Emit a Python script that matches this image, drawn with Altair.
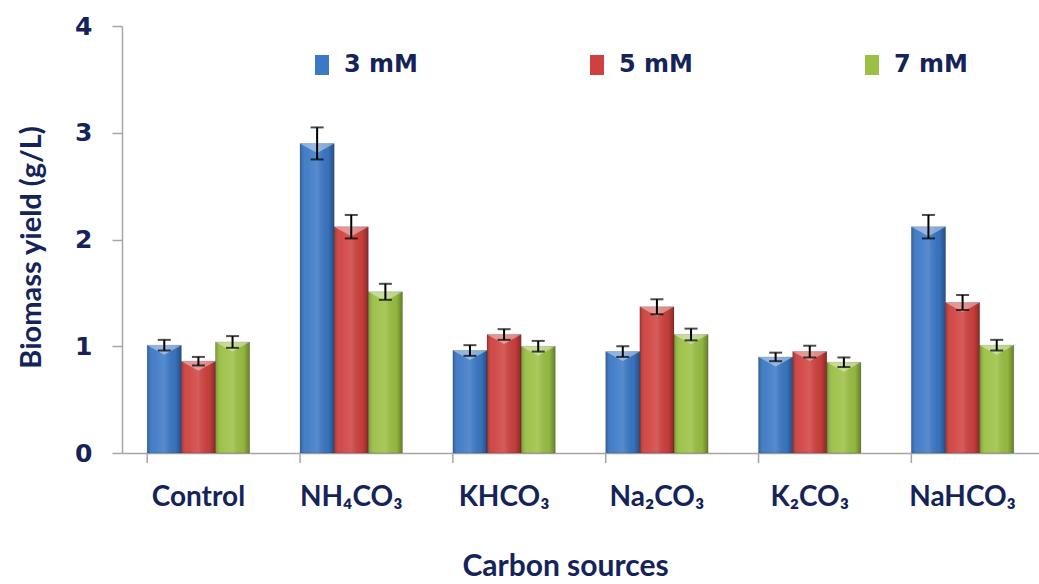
import altair as alt
import pandas as pd

# Biomass yield (g/L) by carbon source and concentration
categories = ["Control", "NH₄CO₃", "KHCO₃", "Na₂CO₃", "K₂CO₃", "NaHCO₃"]
concentrations = ["3 mM", "5 mM", "7 mM"]
yield_3mm = [1.01, 2.90, 0.96, 0.95, 0.90, 2.12]
yield_5mm = [0.86, 2.12, 1.11, 1.37, 0.95, 1.41]
yield_7mm = [1.04, 1.51, 1.00, 1.11, 0.85, 1.01]
err_3mm = [0.05, 0.15, 0.05, 0.05, 0.04, 0.11]
err_5mm = [0.04, 0.11, 0.05, 0.07, 0.055, 0.07]
err_7mm = [0.055, 0.075, 0.05, 0.055, 0.045, 0.05]
colors = ["#3B78C6", "#CF413E", "#9BC043"]

rows = []
for conc, ys, es in zip(concentrations, [yield_3mm, yield_5mm, yield_7mm],
                        [err_3mm, err_5mm, err_7mm]):
    for cat, y, e in zip(categories, ys, es):
        rows.append({"source": cat, "conc": conc, "value": y,
                     "lo": y - e, "hi": y + e})
df = pd.DataFrame(rows)
ticks_df = pd.DataFrame({"source": categories})

W, H = 917, 427
TEXT = "#14245A"
FONT = "Lato"
WIDE = "DejaVu Sans"
AXIS_GREY = "#A6A6A6"

x_enc = alt.X("source:N", sort=categories,
              scale=alt.Scale(paddingInner=0.33, paddingOuter=0.165),
              axis=alt.Axis(title="Carbon sources", labelAngle=0, ticks=False,
                            labelFont=FONT, labelFontSize=28, labelFontWeight="bold",
                            labelColor=TEXT, labelPadding=30,
                            titleFont=FONT, titleFontSize=30, titleFontWeight="bold",
                            titleColor=TEXT, titlePadding=40, titleX=443,
                            domainColor=AXIS_GREY, domainWidth=1.5))
xoff = alt.XOffset("conc:N", sort=concentrations,
                   scale=alt.Scale(paddingInner=0, paddingOuter=0))
y_scale = alt.Scale(domain=[0, 4], nice=False)
x_plain = alt.X("source:N", sort=categories)

bars = alt.Chart(df).mark_bar().encode(
    x=x_enc,
    xOffset=xoff,
    y=alt.Y("value:Q", scale=y_scale,
            axis=alt.Axis(title="Biomass yield (g/L)", values=[0, 1, 2, 3, 4],
                          format="d", grid=False, tickSize=10, tickColor=AXIS_GREY,
                          tickWidth=1.5, domainColor=AXIS_GREY, domainWidth=1.5,
                          labelFont=WIDE, labelFontSize=25, labelFontWeight="bold",
                          labelColor=TEXT, labelPadding=20,
                          titleFont=FONT, titleFontSize=29, titleFontWeight="bold",
                          titleColor=TEXT, titlePadding=28, titleY=221)),
    color=alt.Color("conc:N", sort=concentrations,
                    scale=alt.Scale(domain=concentrations, range=colors),
                    legend=alt.Legend(title=None, orient="none", direction="horizontal",
                                      legendX=188, legendY=27, columns=3,
                                      columnPadding=167,
                                      symbolType="M-0.7,-1H0.7V1H-0.7Z",
                                      symbolSize=400, symbolStrokeWidth=0,
                                      symbolOpacity=1,
                                      labelFontSize=24, labelFont=WIDE,
                                      labelFontWeight="bold", labelColor=TEXT,
                                      labelOffset=10)),
)

# soft cylindrical shading across each bar
shade = alt.Chart(df).mark_bar(
    fill=alt.Gradient(
        gradient="linear", x1=0, x2=1, y1=0, y2=0,
        stops=[
            alt.GradientStop(offset=0, color="rgba(0,0,0,0.22)"),
            alt.GradientStop(offset=0.18, color="rgba(255,255,255,0.05)"),
            alt.GradientStop(offset=0.5, color="rgba(255,255,255,0.14)"),
            alt.GradientStop(offset=0.82, color="rgba(0,0,0,0.05)"),
            alt.GradientStop(offset=1, color="rgba(0,0,0,0.34)"),
        ],
    ),
    stroke="rgba(0,0,0,0.18)", strokeWidth=0.8,
).encode(x=x_plain, xOffset=xoff, y=alt.Y("value:Q", scale=y_scale))

# light bevel wedge on top of each bar
bevel = alt.Chart(df).mark_point(
    shape="M-1,0L1,0L0,0.55Z", size=1190, filled=True,
    color="white", opacity=0.4, strokeWidth=0,
).encode(x=x_plain, xOffset=xoff, y=alt.Y("value:Q", scale=y_scale))

err_line = alt.Chart(df).mark_rule(color="black", strokeWidth=2).encode(
    x=x_plain, xOffset=xoff,
    y=alt.Y("lo:Q", scale=y_scale), y2="hi:Q")
cap_lo = alt.Chart(df).mark_tick(color="black", thickness=2, size=13).encode(
    x=x_plain, xOffset=xoff, y=alt.Y("lo:Q", scale=y_scale))
cap_hi = alt.Chart(df).mark_tick(color="black", thickness=2, size=13).encode(
    x=x_plain, xOffset=xoff, y=alt.Y("hi:Q", scale=y_scale))

# category separators below the x axis
sep = alt.Chart(ticks_df).mark_rule(color=AXIS_GREY, strokeWidth=1.5).encode(
    x=alt.X("source:N", sort=categories, bandPosition=0),
    y=alt.value(H), y2=alt.value(H + 10))

chart = alt.layer(bars, shade, bevel, err_line, cap_lo, cap_hi, sep).properties(
    width=W, height=H,
    autosize="none",
    padding={"left": 122, "top": 26, "right": 0, "bottom": 131},
).configure_view(stroke=None)

chart.save("out.html", embed_options={"renderer": "svg", "actions": False})
